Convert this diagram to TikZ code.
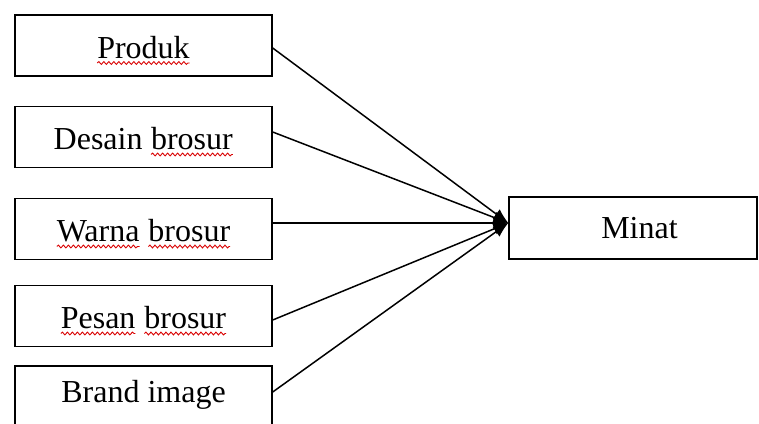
\documentclass[tikz,border=0pt]{standalone}
\usepackage{fontspec}
\setmainfont{Liberation Serif}
\usetikzlibrary{arrows.meta,decorations.pathmorphing}

% word marked with a red wavy underline
\newcommand\wavyword[1]{\tikz[baseline=(w.base)]{%
  \node[inner sep=0pt,outer sep=0pt,draw=none,minimum size=0pt,
        text height=,text depth=] (w) {#1};
  \draw[red!85!black,line width=0.9pt,decorate,
        decoration={snake,amplitude=1.4pt,segment length=5pt}]
    ([yshift=-5pt]w.base west) -- ([yshift=-5pt]w.base east);}}

\tikzset{
  factor/.style={draw,line width=1.4pt,rectangle,inner sep=0pt,
    minimum width=257pt,minimum height=61pt,
    text height=32pt,text depth=7pt,
    font=\fontsize{32}{38}\selectfont},
  target/.style={factor,minimum width=248pt,minimum height=62pt,
    text height=28pt},
  link/.style={line width=1.5pt,-{Latex[length=15pt,width=12pt]}}
}

\begin{document}
\begin{tikzpicture}[x=1pt,y=-1pt]
  \useasboundingbox (0,0) rectangle (759,423);
  \begin{scope}
    \clip (0,0) rectangle (759,423);
    \node[factor] (p1) at (143.5,45.5) {\wavyword{Produk}};
    \node[factor] (p2) at (143.5,137) {Desain \wavyword{brosur}};
    \node[factor] (p3) at (143.5,229) {\wavyword{Warna} \wavyword{brosur}};
    \node[factor] (p4) at (143.5,316) {\wavyword{Pesan} \wavyword{brosur}};
    \node[factor] (p5) at (143.5,396.5) {};
    \node[font=\fontsize{32}{38}\selectfont,inner sep=0pt,
          text height=32pt,text depth=7pt] (t5) at (143.5,389.5) {Brand image};
  \end{scope}
  \node[target] (m) at (633,228) {\hspace*{13pt}Minat};

  \coordinate (hit) at ([yshift=5pt]m.west);
  \draw[link] ([yshift=-2.5pt]p1.east) -- (hit);
  \draw[link] ([yshift=5pt]p2.east) -- (hit);
  \draw[link] ([yshift=6pt]p3.east) -- (hit);
  \draw[link] ([yshift=-4pt]p4.east) -- (hit);
  \draw[link] ([yshift=4.5pt]p5.east) -- (hit);
\end{tikzpicture}
\end{document}
